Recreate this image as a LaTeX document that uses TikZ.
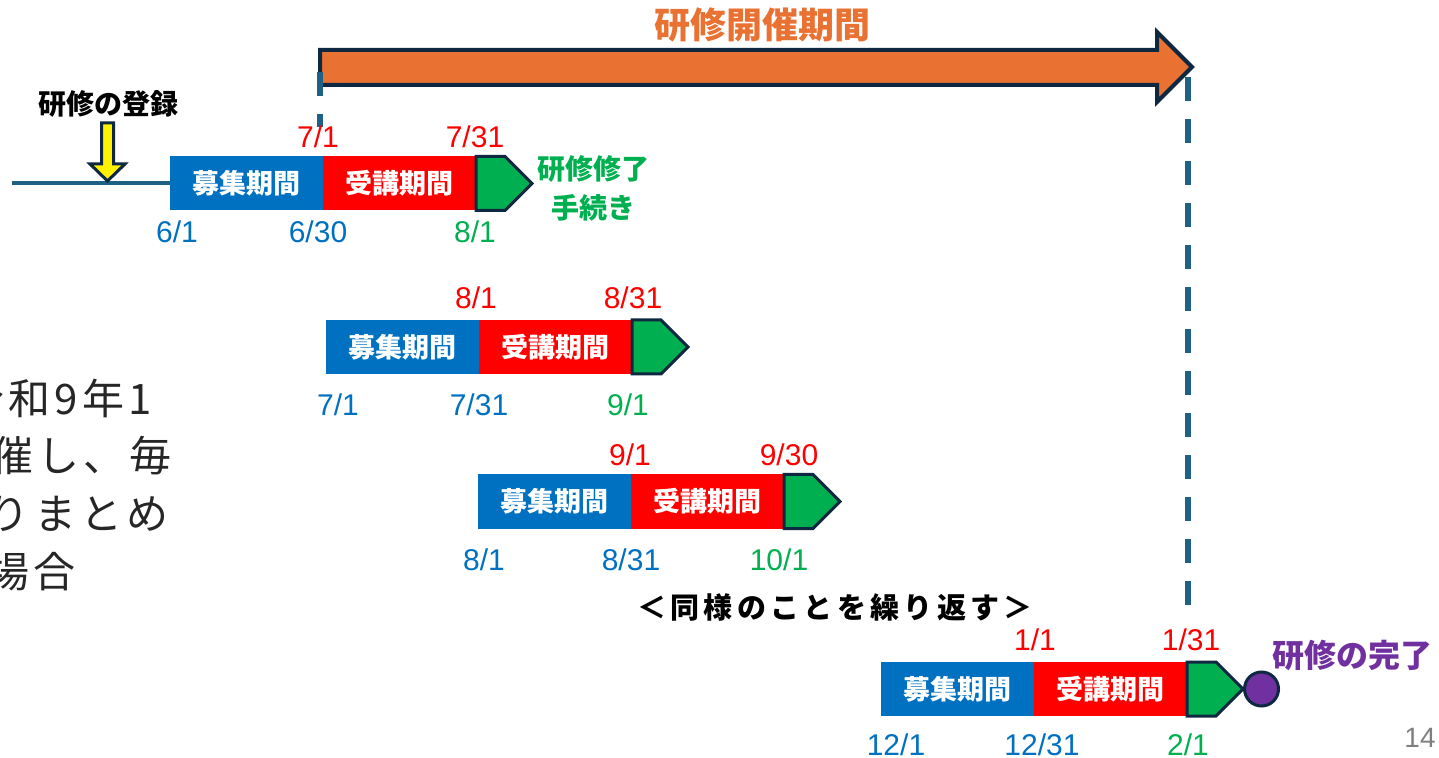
\documentclass[tikz,border=0pt]{standalone}
\usepackage{fontspec}
\setmainfont{Liberation Sans}
\newfontfamily\jp{Noto Sans CJK JP}
\newfontfamily\jpwide[LetterSpace=15]{Noto Sans CJK JP}
\newfontfamily\jpbody[LetterSpace=10]{Noto Sans CJK JP}
\usetikzlibrary{positioning, shapes.symbols}

\definecolor{recruitblue}{HTML}{0070C0}
\definecolor{lecturered}{HTML}{FF0000}
\definecolor{donegreen}{HTML}{00B050}
\definecolor{donepurple}{HTML}{7030A0}
\definecolor{heldorange}{HTML}{E97132}
\definecolor{edgenavy}{HTML}{0E2841}
\definecolor{lineteal}{HTML}{1F6085}
\definecolor{pagegray}{HTML}{7F7F7F}
\definecolor{bodygray}{HTML}{262626}

\tikzset{
  recruit/.style={fill=recruitblue, text=white, font=\jp\bfseries\fontsize{13.5}{16}\selectfont,
    minimum width=76.5pt, minimum height=27pt, inner sep=0pt, outer sep=0pt},
  lecture/.style={recruit, fill=lecturered},
  finish/.style={signal, signal to=east, signal pointer angle=90, fill=donegreen, draw=edgenavy,
    line width=1.5pt, minimum width=28pt, minimum height=27pt, inner sep=0pt, outer sep=0pt},
  date/.style={font=\fontsize{15}{18}\selectfont, inner sep=0pt},
  note/.style={font=\jp\bfseries\fontsize{14}{19.5}\selectfont, inner sep=0pt},
  body/.style={font=\jpbody\fontsize{21}{25}\selectfont, text=bodygray, inner sep=0pt, anchor=base east},
  period/.style={draw=lineteal, line width=2.8pt, dash pattern=on 12pt off 9pt},
}

\begin{document}
\begin{tikzpicture}[x=0.5pt, y=-0.5pt]
  \useasboundingbox (0,0) rectangle (1439,758);

  % Text on the left
  \node[body] (p1) at (152,415) {令和9年1};
  \node[body] (p2) at (172,472) {催し、毎};
  \node[body] (p3) at (169,530) {りまとめ};
  \node[body] (p4) at (76,587) {場合};

  % Training period
  \node[note, font=\jp\bfseries\fontsize{18}{20}\selectfont, text=heldorange] (title) at (762,25) {研修開催期間};
  \draw[fill=heldorange, draw=edgenavy, line width=2pt]
    (320,50) -- (1157,50) -- (1157,32) -- (1192,67) -- (1157,102) -- (1157,85) -- (320,85) -- cycle;
  \coordinate (openstart) at (320,72);
  \coordinate (openmark) at (320,127);
  \coordinate (closestart) at (1188,77);
  \coordinate (closemark) at (1188,605);
  \draw[period] (openstart) -- (openmark);
  \draw[period] (closestart) -- (closemark);

  % First round
  \node[recruit] (r1b) at (246.5,183.5) {募集期間};
  \node[lecture, right=0pt of r1b] (r1r) {受講期間};
  \node[finish, right=0pt of r1r] (r1g) {};
  \coordinate (tlstart) at (12,183.5);
  \draw[draw=lineteal, line width=2pt] (tlstart) -- (r1b.west);
  \node[note, font=\jp\bfseries\fontsize{14}{16}\selectfont] (entry) at (108,104) {研修の登録};
  \draw[fill=yellow, draw=edgenavy, line width=1.5pt]
    (101.5,123) -- (113.5,123) -- (113.5,164) -- (125,164) -- (107.5,181) -- (90,164) -- (101.5,164) -- cycle;
  \node[note, text=donegreen, align=center] (procedure) at (593,188) {研修修了\\手続き};
  \node[date, text=lecturered] (r1open) at (318,137) {7/1};
  \node[date, text=lecturered] (r1close) at (475,137) {7/31};
  \node[date, text=recruitblue] (r1from) at (177,232) {6/1};
  \node[date, text=recruitblue] (r1to) at (318,232) {6/30};
  \node[date, text=donegreen] (r1done) at (475,232) {8/1};

  % Second round
  \node[recruit] (r2b) at (402.5,347) {募集期間};
  \node[lecture, right=0pt of r2b] (r2r) {受講期間};
  \node[finish, right=0pt of r2r] (r2g) {};
  \node[date, text=lecturered] (r2open) at (476,298) {8/1};
  \node[date, text=lecturered] (r2close) at (633,298) {8/31};
  \node[date, text=recruitblue] (r2from) at (338,405) {7/1};
  \node[date, text=recruitblue] (r2to) at (479,405) {7/31};
  \node[date, text=donegreen] (r2done) at (628,405) {9/1};

  % Third round
  \node[recruit] (r3b) at (554.5,501.5) {募集期間};
  \node[lecture, right=0pt of r3b] (r3r) {受講期間};
  \node[finish, right=0pt of r3r] (r3g) {};
  \node[date, text=lecturered] (r3open) at (630,455) {9/1};
  \node[date, text=lecturered] (r3close) at (789,455) {9/30};
  \node[date, text=recruitblue] (r3from) at (484,560) {8/1};
  \node[date, text=recruitblue] (r3to) at (631,560) {8/31};
  \node[date, text=donegreen] (r3done) at (779,560) {10/1};

  \node[note, font=\jpwide\bfseries\fontsize{14.5}{16}\selectfont] (repeat) at (835,607) {＜同様のことを繰り返す＞};

  % Last round
  \node[recruit] (r4b) at (957.5,689) {募集期間};
  \node[lecture, right=0pt of r4b] (r4r) {受講期間};
  \node[finish, right=0pt of r4r] (r4g) {};
  \node[circle, fill=donepurple, draw=edgenavy, line width=1.5pt, minimum size=17pt, inner sep=0pt,
    right=0pt of r4g] (r4end) {};
  \node[note, font=\jp\bfseries\fontsize{16}{18}\selectfont, text=donepurple] (complete) at (1352,655) {研修の完了};
  \node[date, text=lecturered] (r4open) at (1035,640) {1/1};
  \node[date, text=lecturered] (r4close) at (1191,640) {1/31};
  \node[date, text=recruitblue] (r4from) at (896,745) {12/1};
  \node[date, text=recruitblue] (r4to) at (1042,745) {12/31};
  \node[date, text=donegreen] (r4done) at (1188,745) {2/1};

  \node[date, font=\fontsize{14}{16}\selectfont, text=pagegray] (pageno) at (1420,738) {14};
\end{tikzpicture}
\end{document}
